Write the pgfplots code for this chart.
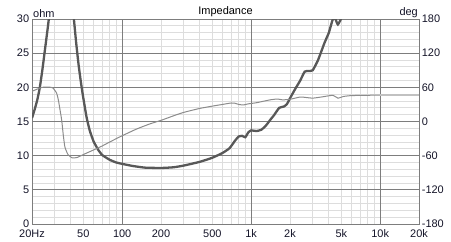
\documentclass[border=0pt]{standalone}
\usepackage{fontspec}
\setmainfont{Liberation Sans}
\usepackage{pgfplots}
\pgfplotsset{compat=1.18}
\definecolor{gmin}{RGB}{221,221,221}
\definecolor{gmaj}{RGB}{125,125,125}
\definecolor{imp}{RGB}{88,88,88}
\definecolor{ph}{RGB}{140,140,140}
\definecolor{txt}{RGB}{20,20,40}
\begin{document}
\fontsize{11}{13}\selectfont
\begin{tikzpicture}
\path[use as bounding box] (-32bp,-18bp) rectangle (419bp,224bp);
% light grid
\begin{axis}[at={(0,0)}, anchor=south west,
 scale only axis, width=387bp, height=205bp,
 xmode=log, xmin=20, xmax=20000, ymin=0, ymax=30,
 major tick length=0pt, minor tick length=0pt,
 xtick={20,30,40,50,60,70,80,90,200,300,400,500,600,700,800,900,2000,3000,4000,5000,6000,7000,8000,9000,20000},
 ytick={1,2,3,4,6,7,8,9,11,12,13,14,16,17,18,19,21,22,23,24,26,27,28,29},
 xticklabels={}, yticklabels={},
 grid=major, major grid style={gmin, line width=1bp},
 axis line style={draw=none},
]
\addplot[draw=none] coordinates {(20,0) (20000,30)};
\end{axis}
% dark grid, labels, impedance
\begin{axis}[at={(0,0)}, anchor=south west,
 scale only axis, width=387bp, height=205bp,
 xmode=log, xmin=20, xmax=20000, ymin=0, ymax=30, name=main,
 major tick length=0pt, minor tick length=0pt,
 axis line style={gmaj, line width=1bp},
 tick label style={font=\fontsize{11}{13}\selectfont, text=txt},
 xtick={100,1000,10000}, xticklabels={100,1k,10k},
 extra x ticks={20,50,200,500,2000,5000,20000},
 extra x tick labels={20Hz,50,200,500,2k,5k,20k},
 extra x tick style={grid=none},
 ytick={5,10,15,20,25}, yticklabels={5,10,15,20,25},
 extra y ticks={0,30}, extra y tick labels={0,30}, extra y tick style={grid=none},
 grid=major,
 major grid style={gmaj, line width=1bp},
 xticklabel style={yshift=-2bp},
 yticklabel style={xshift=1bp},
]
\addplot[imp, line width=2.3bp, smooth, tension=0.3] coordinates {
(20,15.5) (21,16.8) (22,18.2) (23,20.0) (24,22.4) (25,25.0) (26,27.5) (27,30.0) (28,33) (30,40) (33,48)
(38,40) (40,35) (42,30.5) (44,26.5) (46,23.2) (48,20.6) (50,18.4) (53,15.6) (56,13.7) (60,12.1)
(65,10.9) (70,10.1) (80,9.4) (90,9.0) (100,8.8) (120,8.5) (150,8.25) (200,8.2) (250,8.3) (300,8.55)
(400,9.1) (500,9.7) (600,10.4) (680,11.1) (750,12.2) (800,12.8) (850,12.9) (900,12.7) (950,13.4)
(1000,13.7) (1100,13.6) (1200,13.8) (1300,14.4) (1400,15.2) (1500,15.9) (1650,17.0) (1800,17.2)
(1900,17.6) (2000,18.4) (2200,19.8) (2400,21.0) (2600,22.3) (2800,22.4) (3000,22.5) (3300,24.0)
(3700,26.5) (4000,28.0) (4300,30.0) (4500,30.0) (4700,29.2) (5100,30.5) (5500,33)
};
\end{axis}
\begin{axis}[at={(0,0)}, anchor=south west,
 scale only axis, width=387bp, height=205bp,
 xmode=log, xmin=20, xmax=20000, ymin=-180, ymax=180,
 major tick length=0pt, minor tick length=0pt,
 axis line style={gmaj, line width=1bp},
 tick label style={font=\fontsize{11}{13}\selectfont, text=txt},
 axis x line=none, axis y line*=right,
 ytick={-180,-120,-60,0,60,120,180}, yticklabels={-180,-120,-60,0,60,120,180},
 yticklabel style={xshift=-1bp},
]
\addplot[ph, line width=1bp, smooth, tension=0.3] coordinates {
(20,53) (22,57) (24,60) (27,60.5) (29,59) (31,50) (32,38) (33,20) (34,2) (35,-25) (36,-45) (38,-58)
(41,-64) (45,-63) (50,-58) (60,-50) (70,-43) (80,-36) (100,-25) (130,-13) (165,-4) (200,2) (250,10)
(300,16) (400,23) (500,27) (600,30) (700,32.5) (750,32) (800,30) (870,29) (950,31) (1100,33)
(1400,38) (1600,39.5) (1750,38) (2000,39) (2400,43) (2700,42) (3000,41) (3500,43) (4300,46)
(4700,41) (5200,44) (6000,45.5) (8000,46) (10000,46.5)
};
\addplot[gmin!70!gray, line width=2.5bp] coordinates {(10000,46.5) (20000,46.5)};
\end{axis}
\node[anchor=south west, inner sep=1bp, text=txt] at (main.north west) {ohm};
\node[anchor=south east, inner sep=1bp, text=txt] at (main.north east) {deg};
\node[anchor=south, inner sep=2bp, text=black] at (main.north) {Impedance};
\end{tikzpicture}
\end{document}
